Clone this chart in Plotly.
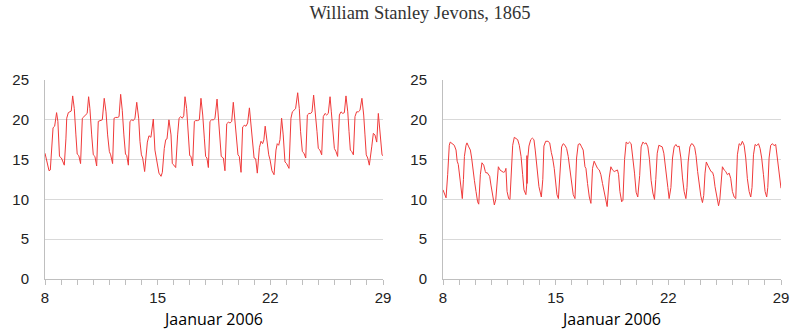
import plotly.graph_objects as go

# ---- data: left panel (time in days of January 2006, value) ----
left_t = [8.00, 8.08, 8.17, 8.25, 8.33, 8.42, 8.50, 8.60, 8.66, 8.72, 8.80, 8.90,
          9.02, 9.12, 9.20, 9.30, 9.35, 9.45, 9.55, 9.63, 9.72, 9.82, 9.92,
          10.00, 10.10, 10.21, 10.32, 10.42, 10.54, 10.62, 10.71, 10.79, 10.90,
          11.00, 11.10, 11.21, 11.31, 11.48, 11.56, 11.68, 11.79, 11.89,
          12.00, 12.08, 12.20, 12.29, 12.39, 12.52, 12.60, 12.70, 12.80, 12.90,
          13.00, 13.08, 13.18, 13.28, 13.39, 13.49, 13.59, 13.70, 13.82, 13.90,
          13.99, 14.07, 14.19, 14.36, 14.46, 14.58, 14.73, 14.83, 14.94,
          15.08, 15.21, 15.29, 15.41, 15.50, 15.58, 15.70, 15.83, 15.91,
          16.01, 16.12, 16.24, 16.33, 16.43, 16.53, 16.62, 16.70, 16.80, 16.90,
          16.99, 17.07, 17.17, 17.28, 17.36, 17.48, 17.59, 17.69, 17.80, 17.90,
          17.98, 18.06, 18.15, 18.25, 18.35, 18.48, 18.56, 18.69, 18.77, 18.87,
          18.95, 19.08, 19.18, 19.29, 19.39, 19.50, 19.60, 19.70, 19.80, 19.91,
          19.99, 20.07, 20.18, 20.28, 20.38, 20.49, 20.59, 20.70, 20.80, 20.90,
          20.99, 21.09, 21.19, 21.32, 21.42, 21.52, 21.60, 21.68, 21.80, 21.90,
          21.98, 22.10, 22.23, 22.35, 22.43, 22.52, 22.60, 22.70, 22.80, 22.91,
          23.01, 23.16, 23.28, 23.37, 23.47, 23.57, 23.70, 23.80, 23.88,
          23.99, 24.09, 24.20, 24.30, 24.40, 24.51, 24.59, 24.69, 24.80, 24.90,
          24.98, 25.08, 25.19, 25.29, 25.40, 25.50, 25.60, 25.71, 25.79, 25.87,
          25.98, 26.08, 26.18, 26.29, 26.39, 26.50, 26.60, 26.70, 26.81, 26.89,
          26.97, 27.06, 27.16, 27.26, 27.36, 27.47, 27.57, 27.69, 27.80, 27.88,
          27.96, 28.05, 28.15, 28.30, 28.40, 28.50, 28.61, 28.71, 28.82, 28.94,
          29.00]
left_v = [15.8, 15.0, 14.0, 13.6, 13.7, 16.0, 19.0, 19.2, 20.0, 20.9, 19.8, 15.4,
          15.2, 14.6, 14.3, 17.6, 20.2, 20.9, 21.0, 21.1, 23.0, 21.4, 18.1,
          15.7, 15.5, 14.5, 20.2, 20.4, 20.6, 20.8, 22.9, 21.4, 18.1,
          15.6, 15.4, 14.2, 19.8, 19.9, 20.0, 22.7, 21.0, 18.1,
          16.0, 15.6, 14.5, 20.2, 20.3, 20.3, 20.4, 23.2, 21.2, 18.1,
          15.7, 15.5, 14.3, 19.8, 20.0, 19.9, 20.2, 22.2, 20.2, 17.3,
          15.6, 15.2, 13.5, 17.2, 18.0, 17.8, 20.1, 16.2, 15.0,
          13.3, 12.9, 13.4, 16.4, 17.5, 17.6, 20.0, 18.1, 14.5,
          14.3, 14.0, 18.1, 20.2, 20.4, 20.2, 20.5, 22.9, 21.4, 18.1,
          15.5, 15.4, 14.2, 19.8, 19.9, 19.9, 20.0, 22.7, 20.6, 17.7,
          15.4, 15.2, 14.0, 19.8, 20.0, 20.0, 20.2, 22.6, 20.6, 18.1,
          15.4, 15.2, 13.6, 19.5, 19.7, 19.6, 19.8, 22.2, 20.2, 17.7,
          15.6, 15.4, 13.4, 19.1, 19.3, 19.2, 19.6, 21.5, 19.3, 16.8,
          15.2, 15.1, 13.3, 16.5, 17.3, 17.0, 17.5, 19.2, 17.2, 15.6,
          15.0, 13.6, 13.1, 16.2, 17.0, 16.8, 17.5, 20.2, 18.1, 14.7,
          14.5, 13.9, 20.2, 21.0, 21.2, 21.4, 23.4, 21.4, 18.5,
          16.0, 15.8, 15.2, 20.6, 20.8, 20.8, 21.0, 23.1, 21.0, 18.5,
          16.4, 16.2, 15.6, 20.4, 20.8, 20.6, 20.8, 22.9, 21.0, 18.5,
          16.4, 16.0, 15.4, 20.6, 21.0, 20.8, 20.9, 23.0, 21.0, 18.5,
          16.2, 16.0, 15.6, 20.4, 21.0, 21.0, 21.2, 22.7, 20.6, 18.1,
          15.6, 15.2, 14.3, 16.6, 18.3, 18.1, 17.2, 20.8, 18.5, 15.6,
          15.5]

# ---- data: right panel ----
right_t = [8.00, 8.08, 8.19, 8.29, 8.39, 8.45, 8.52, 8.60, 8.70, 8.81, 8.88, 8.95,
           9.04, 9.12, 9.20, 9.27, 9.33, 9.43, 9.49, 9.60, 9.70, 9.78, 9.84, 9.95,
           10.05, 10.15, 10.22, 10.32, 10.42, 10.53, 10.63, 10.68, 10.73, 10.84, 10.90, 10.98,
           11.09, 11.19, 11.28, 11.36, 11.44, 11.54, 11.65, 11.75, 11.85, 11.91, 11.98,
           12.08, 12.16, 12.25, 12.33, 12.43, 12.54, 12.64, 12.74, 12.85, 12.95,
           13.03, 13.15, 13.20, 13.215, 13.225, 13.26, 13.34, 13.45, 13.55, 13.65, 13.73, 13.84, 13.96,
           14.11, 14.20, 14.27, 14.38, 14.52, 14.63, 14.73, 14.81, 14.91, 14.99,
           15.08, 15.17, 15.27, 15.37, 15.47, 15.58, 15.68, 15.78, 15.89, 15.99,
           16.09, 16.20, 16.30, 16.40, 16.51, 16.61, 16.71, 16.82, 16.88, 16.98,
           17.09, 17.19, 17.29, 17.39, 17.50, 17.60, 17.71, 17.81, 17.91,
           18.02, 18.12, 18.20, 18.33, 18.43, 18.53, 18.64, 18.74, 18.84, 18.91, 18.99,
           19.10, 19.18, 19.28, 19.38, 19.49, 19.59, 19.69, 19.80, 19.90,
           20.00, 20.10, 20.22, 20.31, 20.42, 20.52, 20.62, 20.73, 20.83, 20.93,
           21.04, 21.14, 21.22, 21.31, 21.41, 21.51, 21.62, 21.72, 21.86, 21.97,
           22.05, 22.16, 22.26, 22.36, 22.47, 22.57, 22.67, 22.78, 22.88, 22.98,
           23.09, 23.16, 23.23, 23.34, 23.44, 23.54, 23.64, 23.72, 23.82, 23.92,
           24.02, 24.12, 24.20, 24.28, 24.36, 24.45, 24.55, 24.65, 24.75, 24.82, 24.90,
           25.00, 25.12, 25.20, 25.28, 25.36, 25.47, 25.57, 25.67, 25.78, 25.88, 25.98,
           26.09, 26.19, 26.29, 26.40, 26.50, 26.60, 26.71, 26.81, 26.91,
           27.02, 27.12, 27.20, 27.29, 27.39, 27.49, 27.60, 27.70, 27.80, 27.91,
           28.01, 28.11, 28.18, 28.26, 28.36, 28.47, 28.57, 28.67, 28.78, 28.84, 28.94,
           29.00]
right_v = [11.2, 10.8, 10.2, 13.1, 16.8, 17.2, 17.1, 17.0, 16.8, 16.2, 14.8, 14.4,
           12.6, 11.0, 10.1, 12.5, 15.4, 16.8, 17.1, 16.6, 16.2, 15.2, 13.9, 12.4,
           11.0, 9.7, 9.4, 13.1, 14.6, 14.3, 13.5, 13.3, 13.4, 13.1, 12.9, 11.8,
           10.3, 9.3, 10.0, 12.7, 14.1, 13.7, 13.5, 13.4, 13.5, 13.9, 11.0,
           10.1, 10.0, 13.5, 16.8, 17.8, 17.6, 17.5, 16.8, 15.4, 13.1,
           11.2, 10.6, 11.8, 15.5, 12.0, 15.0, 16.7, 17.5, 17.7, 17.5, 16.2, 14.1, 11.6,
           10.3, 12.5, 16.7, 17.3, 17.3, 17.1, 15.9, 15.2, 13.9, 12.0,
           10.6, 10.1, 14.3, 16.6, 17.0, 16.8, 16.4, 15.4, 13.7, 11.8,
           10.6, 10.1, 15.2, 16.9, 17.0, 16.6, 16.2, 14.1, 13.9, 12.0,
           10.3, 9.5, 13.9, 14.8, 14.4, 13.9, 13.7, 13.1, 12.0,
           11.0, 9.7, 9.1, 12.7, 14.1, 13.7, 13.5, 13.6, 13.7, 13.1, 11.0,
           9.7, 9.9, 15.0, 17.2, 17.0, 17.2, 17.0, 15.4, 13.3,
           10.9, 10.3, 13.0, 16.6, 17.2, 17.0, 17.1, 16.6, 15.0, 12.4,
           10.8, 10.0, 12.5, 15.8, 16.8, 16.7, 16.6, 15.8, 13.7, 11.5,
           10.1, 11.5, 15.2, 16.6, 16.9, 16.6, 16.7, 15.2, 12.7, 11.0,
           10.1, 11.5, 14.7, 16.6, 17.0, 16.9, 16.5, 15.5, 13.5, 11.6,
           10.4, 9.6, 10.5, 13.3, 14.7, 14.3, 13.8, 13.5, 13.4, 12.9, 11.6,
           10.4, 9.2, 10.0, 12.6, 14.1, 13.7, 13.5, 13.1, 13.3, 12.6, 11.0,
           10.3, 10.1, 15.6, 17.0, 16.8, 17.3, 16.8, 15.2, 12.6,
           11.0, 10.3, 11.5, 15.6, 16.9, 16.75, 17.0, 16.4, 15.2, 13.1,
           11.0, 10.3, 11.5, 15.2, 16.8, 17.0, 16.75, 16.9, 15.2, 14.5, 12.6,
           11.4]

# ---- axis labels ----
title_text = "William Stanley Jevons, 1865"
x_title = "Jaanuar 2006"
day_ticks = list(range(8, 30))
labelled_days = [8, 15, 22, 29]
tick_text = [str(d) if d in labelled_days else "" for d in day_ticks]
y_ticks = [0, 5, 10, 15, 20, 25]

LINE = "#f03a3a"
GRID = "#d9d9d9"
AXIS = "#bfbfbf"
TICKFONT = dict(family="Liberation Sans, Arial, sans-serif", size=15, color="#222222")

fig = go.Figure()
fig.add_trace(go.Scatter(x=left_t, y=left_v, mode="lines",
                         line=dict(color=LINE, width=1), xaxis="x", yaxis="y",
                         showlegend=False, hoverinfo="skip"))
fig.add_trace(go.Scatter(x=right_t, y=right_v, mode="lines",
                         line=dict(color=LINE, width=1), xaxis="x2", yaxis="y2",
                         showlegend=False, hoverinfo="skip"))

xcommon = dict(range=[8, 29], tickmode="array", tickvals=day_ticks, ticktext=tick_text,
               ticks="outside", ticklen=5, tickcolor=AXIS, tickwidth=1,
               showline=True, linecolor=AXIS, linewidth=1, showgrid=False,
               zeroline=False, tickfont=TICKFONT,
               title=dict(text=x_title, standoff=8,
                          font=dict(family="Open Sans, Lato, sans-serif", size=16, color="#000000")))
ycommon = dict(range=[0, 25], tickmode="array", tickvals=y_ticks,
               showline=True, linecolor=AXIS, linewidth=1, showgrid=True,
               gridcolor=GRID, gridwidth=1, zeroline=False, ticks="",
               tickfont=TICKFONT, ticklabelstandoff=12)

d1 = (383 - 45) / 736
d2 = (443 - 45) / 736
fig.update_layout(
    width=800, height=336,
    margin=dict(l=45, r=19, t=80, b=57),
    paper_bgcolor="white", plot_bgcolor="white",
    title=dict(text=title_text, x=420 / 800, xanchor="center", y=1 - 13 / 336, yanchor="middle",
               font=dict(family="Liberation Serif, serif", size=18.5, color="#333333")),
    xaxis=dict(domain=[0, d1], anchor="y", **xcommon),
    yaxis=dict(domain=[0, 1], anchor="x", **ycommon),
    xaxis2=dict(domain=[d2, 1], anchor="y2", **xcommon),
    yaxis2=dict(domain=[0, 1], anchor="x2", **ycommon),
)

fig.write_html("out.html")
